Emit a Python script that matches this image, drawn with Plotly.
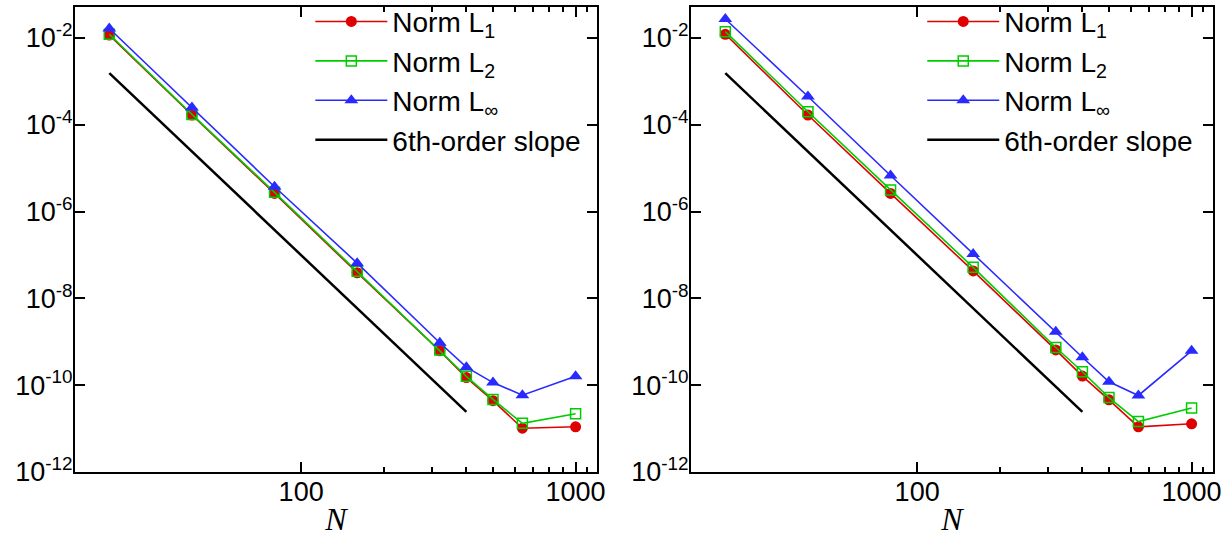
import plotly.graph_objects as go

N = [20, 40, 80, 160, 320, 400, 500, 640, 1000]

# Left panel
left_L1 = [1.17e-2, 1.68e-4, 2.63e-6, 3.9e-8, 6.2e-10, 1.5e-10, 4.4e-11, 1.02e-11, 1.1e-11]
left_L2 = [1.22e-2, 1.74e-4, 2.78e-6, 4.2e-8, 6.5e-10, 1.6e-10, 4.7e-11, 1.32e-11, 2.2e-11]
left_Linf = [1.66e-2, 2.5e-4, 3.75e-6, 6.5e-8, 9.5e-10, 2.6e-10, 1.15e-10, 5.9e-11, 1.6e-10]

# Right panel
right_L1 = [1.22e-2, 1.68e-4, 2.63e-6, 4.3e-8, 6.5e-10, 1.62e-10, 4.6e-11, 1.1e-11, 1.29e-11]
right_L2 = [1.4e-2, 2.0e-4, 3.16e-6, 5.2e-8, 7.4e-10, 2.04e-10, 5.2e-11, 1.45e-11, 3.0e-11]
right_Linf = [2.75e-2, 4.5e-4, 6.8e-6, 1.05e-7, 1.7e-9, 4.4e-10, 1.2e-10, 5.8e-11, 6.2e-10]

slope_N = [20, 400]
slope_E = [1.55e-3, 2.42e-11]

names = ["Norm L<sub>1</sub>", "Norm L<sub>2</sub>", "Norm L<sub>∞</sub>", "6th-order slope"]

ytick_vals = [1e-2, 1e-4, 1e-6, 1e-8, 1e-10, 1e-12]
ytick_text = ["10<sup>-2</sup>", "10<sup>-4</sup>", "10<sup>-6</sup>", "10<sup>-8</sup>",
              "10<sup>-10</sup>", "10<sup>-12</sup>"]
xtick_vals = [100, 1000]
xtick_text = ["100", "1000"]
xminor_vals = [200, 300, 400, 500, 600, 700, 800, 900, 1100]

RED = "#e00000"
GREEN = "#00cc00"
BLUE = "#2a2aff"

fig = go.Figure()

panels = [
    (left_L1, left_L2, left_Linf, "x", "y", "legend"),
    (right_L1, right_L2, right_Linf, "x2", "y2", "legend2"),
]
for L1, L2, Li, xa, ya, lg in panels:
    fig.add_trace(go.Scatter(x=N, y=L1, mode="lines+markers", name=names[0],
                             line=dict(color=RED, width=1.6),
                             marker=dict(symbol="circle", size=11, color=RED),
                             xaxis=xa, yaxis=ya, legend=lg))
    fig.add_trace(go.Scatter(x=N, y=L2, mode="lines+markers", name=names[1],
                             line=dict(color=GREEN, width=1.6),
                             marker=dict(symbol="square-open", size=10, color=GREEN,
                                         line=dict(width=1.5, color=GREEN)),
                             xaxis=xa, yaxis=ya, legend=lg))
    fig.add_trace(go.Scatter(x=N, y=Li, mode="lines+markers", name=names[2],
                             line=dict(color=BLUE, width=1.6),
                             marker=dict(symbol="triangle-up", size=12, color=BLUE),
                             xaxis=xa, yaxis=ya, legend=lg))
    fig.add_trace(go.Scatter(x=slope_N, y=slope_E, mode="lines", name=names[3],
                             line=dict(color="black", width=2.5),
                             xaxis=xa, yaxis=ya, legend=lg))

W, H = 1230, 537
xdom1 = [75 / W, 597 / W]
xdom2 = [691 / W, 1213 / W]
ydom = [1 - 472 / H, 1 - 7 / H]

tickfont = dict(family="Liberation Sans, Arial, sans-serif", size=27, color="black")

def xaxis_cfg(dom, anchor):
    return dict(
        type="log", domain=dom, anchor=anchor, range=[1.176, 3.078],
        automargin=True,
        tickmode="array", tickvals=xtick_vals, ticktext=xtick_text,
        ticks="inside", ticklen=10, tickwidth=2, tickcolor="black",
        minor=dict(tickmode="array", tickvals=xminor_vals, ticks="inside",
                   ticklen=5, tickwidth=1.5, tickcolor="black", showgrid=False),
        showline=True, linewidth=2, linecolor="black", mirror="ticks",
        showgrid=False, zeroline=False, tickfont=tickfont, ticklabelstandoff=-5,
        title=dict(text="<i>N</i>", standoff=4,
                   font=dict(family="Liberation Serif, Times New Roman, serif",
                             size=32, color="black")),
    )

def yaxis_cfg(anchor):
    return dict(
        type="log", domain=ydom, anchor=anchor, range=[-12, -1.285],
        automargin=False,
        tickmode="array", tickvals=ytick_vals, ticktext=ytick_text,
        ticks="inside", ticklen=10, tickwidth=2, tickcolor="black",
        showline=True, linewidth=2, linecolor="black", mirror="ticks",
        showgrid=False, zeroline=False, tickfont=tickfont, ticklabelstandoff=-5,
    )

legfont = dict(family="Liberation Sans, Arial, sans-serif", size=28, color="black")

fig.update_layout(
    width=W, height=H,
    margin=dict(l=0, r=0, t=0, b=0, autoexpand=False),
    paper_bgcolor="white", plot_bgcolor="white",
    xaxis=xaxis_cfg(xdom1, "y"),
    yaxis=yaxis_cfg("x"),
    xaxis2=xaxis_cfg(xdom2, "y2"),
    yaxis2=yaxis_cfg("x2"),
    legend=dict(x=0.2523, y=1.006, xanchor="left", yanchor="top", font=legfont,
                bgcolor="rgba(0,0,0,0)", tracegroupgap=0, itemwidth=72),
    legend2=dict(x=0.7498, y=1.006, xanchor="left", yanchor="top", font=legfont,
                 bgcolor="rgba(0,0,0,0)", tracegroupgap=0, itemwidth=72),
    showlegend=True,
)

fig.write_html("out.html")
